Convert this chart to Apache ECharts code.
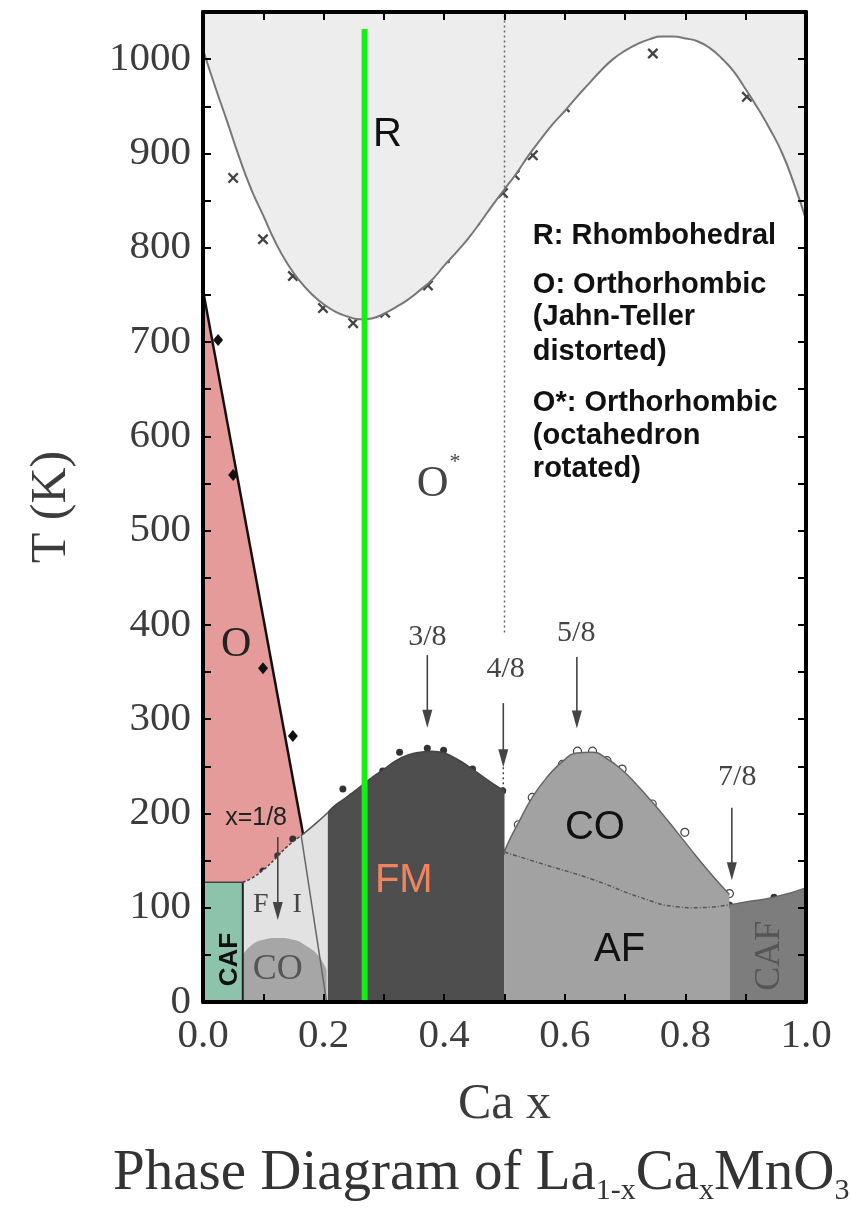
<!DOCTYPE html>
<html><head><meta charset="utf-8">
<script src="https://cdn.jsdelivr.net/npm/echarts@6/dist/echarts.min.js"></script>
<style>html,body{margin:0;padding:0;background:#fff}#c{width:850px;height:1216px}</style>
</head><body><div id="c"></div>
<script>
// ---------------- data (x = Ca fraction, T in K) ----------------
const rBoundary = [[0,1010],[0.02,971],[0.04,934],[0.06,896],[0.08,862],[0.10,834],[0.12,806],[0.14,783],[0.16,765],[0.18,751],[0.20,740],[0.22,732],[0.24,727],[0.26,724],[0.28,725],[0.30,730],[0.32,737],[0.34,745],[0.36,755],[0.38,766],[0.40,781],[0.42,795],[0.44,810],[0.46,827],[0.48,845],[0.50,862],[0.52,879],[0.54,898],[0.56,915],[0.58,931],[0.60,945],[0.62,960],[0.64,974],[0.66,988],[0.68,1000],[0.70,1009],[0.72,1016],[0.74,1021],[0.76,1024],[0.78,1024],[0.80,1022],[0.82,1019],[0.84,1012],[0.86,1001],[0.88,987],[0.90,968],[0.92,948],[0.94,926],[0.96,901],[0.98,868],[1.0,830]];
const rMarks = [[0.020,991],[0.050,874],[0.0995,809],[0.124,819],[0.149,770],[0.199,736],[0.249,720],[0.302,731],[0.373,760],[0.401,789],[0.451,829],[0.4975,858],[0.517,877],[0.547,898],[0.600,949],[0.667,1006],[0.746,1006],[0.799,1036],[0.902,960]];
const oLine = [[0,755],[0.166,178]];
const oDiamonds = [[0.025,702],[0.050,559],[0.0995,354],[0.149,282]];
const fiTop = [[0.066,127],[0.08,131],[0.10,140],[0.12,152],[0.14,165],[0.166,178],[0.19,191],[0.207,201]];
const pinkTop = [0,755];
const pinkCorner = [0,127];
const cafLeftTop = [[0,127],[0.066,127]];
const cafLeftEdge = [[0.066,0],[0.066,127]];
const wedgeLine = [[0.163,176],[0.205,0]];
const coLowTop = [[0.066,50],[0.08,60],[0.10,66],[0.124,68],[0.15,66],[0.17,60],[0.19,50],[0.205,34]];
const coLowCircles = [[0.098,69],[0.124,74],[0.149,70]];
const fmTop = [[0.207,201],[0.22,209],[0.24,218],[0.26,228],[0.28,238],[0.30,247],[0.32,256],[0.34,262],[0.36,265],[0.38,266],[0.40,264],[0.42,258],[0.44,250],[0.46,241],[0.48,232],[0.50,224]];
const fmDots = [[0.048,117],[0.0995,139],[0.124,155],[0.149,173],[0.232,226],[0.247,218],[0.298,245],[0.326,265],[0.372,269],[0.399,267],[0.447,247],[0.472,231],[0.497,224],[0.497,159]];
const coHighTop = [[0.5,160],[0.51,174],[0.523,190],[0.546,217],[0.57,238],[0.596,255],[0.62,264],[0.645,265],[0.67,258],[0.695,246],[0.72,230],[0.745,212],[0.77,193],[0.795,173],[0.82,153],[0.845,134],[0.873,114]];
const coHighCircles = [[0.523,188],[0.546,217],[0.596,252],[0.621,266],[0.646,266],[0.67,256],[0.695,247],[0.745,210],[0.799,180],[0.824,143],[0.873,115]];
const coAfBoundary = [[0.5,159],[0.56,147],[0.646,130],[0.725,111],[0.786,101],[0.82,100],[0.873,103]];
const rightDots = [[0.646,130],[0.82,100],[0.873,103],[0.947,111]];
const cafRightTop = [[0.873,103],[0.90,106],[0.947,111],[1.0,121]];
const halfDivider = [[0.5,392],[0.5,1050]];
const halfDividerLow = [[0.498,249],[0.498,224]];
const greenLine = [[0.268,0],[0.268,1032]];
// arrows: [x, T start, T tip]
const arrows = [[0.124,175,87],[0.372,368,291],[0.498,317,249],[0.62,366,290],[0.877,206,129]];
// labels: [x, T, text, style]
const phaseLabels = [
  [0.306,920,'R','sans'],
  [0.055,379,'O','serifDark'],
  [0.381,549,'O','serifGray'],
  [0.418,573,'*','star'],
  [0.088,195,'x=1/8','small'],
  [0.096,103,'F','serifSmall'],
  [0.156,103,'I','serifSmall'],
  [0.124,34,'CO','coLow'],
  [0.045,45,'CAF','cafLeft'],
  [0.333,128,'FM','fm'],
  [0.65,185,'CO','sans'],
  [0.691,55,'AF','sans'],
  [0.94,49,'CAF','cafRight'],
  [0.372,387,'3/8','frac'],
  [0.502,353,'4/8','frac'],
  [0.619,391,'5/8','frac'],
  [0.886,238,'7/8','frac']
];
const legendLines = [
  [0.547,812,'R: Rhombohedral'],
  [0.547,760,'O: Orthorhombic'],
  [0.547,726,'(Jahn-Teller'],
  [0.547,689,'distorted)'],
  [0.547,635,'O*: Orthorhombic'],
  [0.547,600,'(octahedron'],
  [0.547,565,'rotated)']
];
const xName = 'Ca x';
const yName = 'T (K)';

// ---------------- styles ----------------
const SERIF = "'Liberation Serif', 'DejaVu Serif', serif";
const SANS = "'Liberation Sans', Arial, sans-serif";
const labelStyles = {
  sans: {font: '40px ' + SANS, color: '#111'},
  serifDark: {font: '42px ' + SERIF, color: '#222'},
  serifGray: {font: '44px ' + SERIF, color: '#444'},
  star: {font: '22px ' + SERIF, color: '#444'},
  small: {font: '25px ' + SANS, color: '#222'},
  serifSmall: {font: '28px ' + SERIF, color: '#444'},
  coLow: {font: '36px ' + SERIF, color: '#555'},
  cafLeft: {font: 'bold 26px ' + SANS, color: '#111', rot: Math.PI / 2},
  fm: {font: '40px ' + SANS, color: '#ef845e'},
  cafRight: {font: '36px ' + SERIF, color: '#555', rot: Math.PI / 2},
  frac: {font: '30px ' + SERIF, color: '#444'}
};

function polySeries(points, color) {
  return {
    type: 'custom', coordinateSystem: 'cartesian2d', silent: true,
    data: points,
    renderItem: function (params, api) {
      if (params.dataIndex !== 0) return;
      return {type: 'polygon', shape: {points: points.map(function (p) { return api.coord(p); })}, style: {fill: color}};
    }
  };
}
function areaSeries(points, color, origin, smooth) {
  return {
    type: 'line', data: points, showSymbol: false, symbol: 'none', smooth: smooth, silent: true,
    lineStyle: {width: 0}, areaStyle: {color: color, opacity: 1, origin: origin || 'start'}
  };
}
function lineSeries(points, color, width, type, smooth) {
  return {
    type: 'line', data: points, showSymbol: false, symbol: 'none', smooth: smooth || false, silent: true,
    lineStyle: {color: color, width: width, type: type || 'solid'}
  };
}
function scatterSeries(points, symbol, size, color, border) {
  return {
    type: 'scatter', data: points, symbol: symbol, symbolSize: size, silent: true,
    itemStyle: {color: color, borderColor: border || color, borderWidth: border ? 1.2 : 0, opacity: 1}
  };
}
function textSeries(rows, getStyle, align) {
  return {
    type: 'custom', coordinateSystem: 'cartesian2d', silent: true, z: 10,
    data: rows.map(function (r) { return [r[0], r[1]]; }),
    renderItem: function (params, api) {
      const r = rows[params.dataIndex];
      const st = getStyle(r);
      const p = api.coord([api.value(0), api.value(1)]);
      return {type: 'text', x: p[0], y: p[1], rotation: st.rot || 0,
        style: {text: r[2], font: st.font, fill: st.color, align: align, verticalAlign: 'middle'}};
    }
  };
}
const arrowSeries = {
  type: 'custom', coordinateSystem: 'cartesian2d', silent: true, z: 6,
  data: arrows.map(function (a) { return [a[0], a[1], a[2]]; }),
  renderItem: function (params, api) {
    const p1 = api.coord([api.value(0), api.value(1)]);
    const p2 = api.coord([api.value(0), api.value(2)]);
    return {type: 'group', children: [
      {type: 'line', shape: {x1: p1[0], y1: p1[1], x2: p2[0], y2: p2[1] - 12}, style: {stroke: '#444', lineWidth: 1.6}},
      {type: 'polygon', shape: {points: [[p2[0] - 5, p2[1] - 18], [p2[0] + 5, p2[1] - 18], [p2[0], p2[1]]]}, style: {fill: '#444'}}
    ]};
  }
};

const X_MARK = 'path://M3,0L10,7L17,0L20,3L13,10L20,17L17,20L10,13L3,20L0,17L7,10L0,3Z';

function frameAxisLine() { return {show: true, onZero: false, lineStyle: {color: '#000', width: 4}}; }
function frameTick() { return {show: true, inside: true, length: 8, lineStyle: {color: '#000', width: 2}}; }
function tickLabels(extra) {
  return Object.assign({inside: false, fontFamily: SERIF, fontSize: 41, color: '#3c3c3c'}, extra);
}

const option = {
  animation: false,
  backgroundColor: '#fff',
  grid: {left: 203, right: 44, top: 12, bottom: 214, containLabel: false},
  xAxis: [
    {type: 'value', position: 'bottom', min: 0, max: 1, interval: 0.1, z: 20,
      axisLine: frameAxisLine(), axisTick: frameTick(), splitLine: {show: false},
      axisLabel: tickLabels({margin: 14, formatter: function (v) { return Math.round(v * 10) % 2 === 0 ? v.toFixed(1) : ''; }}),
      name: xName, nameLocation: 'middle', nameGap: 78,
      nameTextStyle: {fontFamily: SERIF, fontSize: 50, color: '#3c3c3c'}},
    {type: 'value', position: 'top', min: 0, max: 1, interval: 0.1, z: 20,
      axisLine: frameAxisLine(), axisTick: frameTick(), splitLine: {show: false}, axisLabel: {show: false}}
  ],
  yAxis: [
    {type: 'value', position: 'left', min: 0, max: 1050, interval: 50, z: 20,
      axisLine: frameAxisLine(), axisTick: frameTick(), splitLine: {show: false},
      axisLabel: tickLabels({margin: 12, showMaxLabel: false, formatter: function (v) { return v % 100 === 0 ? String(v) : ''; }}),
      name: yName, nameLocation: 'middle', nameGap: 126, nameRotate: 90,
      nameTextStyle: {fontFamily: SERIF, fontSize: 50, color: '#3c3c3c'}},
    {type: 'value', position: 'right', min: 0, max: 1050, interval: 50, z: 20,
      axisLine: frameAxisLine(), axisTick: frameTick(), splitLine: {show: false}, axisLabel: {show: false}}
  ],
  graphic: [{
    type: 'text', left: 113, top: 1146, silent: true,
    style: {
      text: '{m|Phase Diagram of La}{s|1-x}{m|Ca}{s|x}{m|MnO}{s|3}',
      rich: {
        m: {fontFamily: SERIF, fontSize: 57, lineHeight: 64, fill: '#333'},
        s: {fontFamily: SERIF, fontSize: 30, lineHeight: 10, verticalAlign: 'bottom', fill: '#333'}
      }
    }
  }],
  series: [
    // region fills
    areaSeries(rBoundary, '#ededed', 'end', true),
    areaSeries(cafLeftTop, '#8dc3ab', 'start', false),
    areaSeries(fiTop, '#e2e2e2', 'start', true),
    areaSeries(coLowTop, '#a6a6a6', 'start', true),
    polySeries([pinkTop].concat(fiTop.slice(0, 6).reverse()).concat([pinkCorner]), '#e49b99'),
    areaSeries(fmTop, '#4e4e4e', 'start', true),
    areaSeries(coHighTop, '#a2a2a2', 'start', true),
    areaSeries(cafRightTop, '#7d7d7d', 'start', true),
    // boundaries
    lineSeries(rBoundary, '#777', 2, 'solid', true),
    lineSeries(halfDivider, '#666', 1.5, [2, 3], false),
    lineSeries(halfDividerLow, '#444', 1.5, [2, 3], false),
    lineSeries(oLine, '#111', 2.5, 'solid', false),
    lineSeries(fiTop.slice(0, 6), '#444', 1.5, [3, 2], true),
    lineSeries(fiTop.slice(5), '#555', 1.5, 'solid', true),
    lineSeries(wedgeLine, '#666', 1.5, 'solid', false),
    lineSeries(cafLeftEdge, '#222', 2, 'solid', false),
    lineSeries(cafLeftTop, '#444', 1.5, 'solid', false),
    lineSeries(fmTop, '#444', 1.5, 'solid', true),
    lineSeries(coHighTop, '#666', 1.5, 'solid', true),
    lineSeries(coAfBoundary, '#555', 1.5, [4, 2, 1, 2], true),
    lineSeries(cafRightTop, '#666', 1.5, 'solid', true),
    // markers
    scatterSeries(rMarks, X_MARK, 11, '#444'),
    scatterSeries(oDiamonds, 'diamond', [10, 12], '#111'),
    scatterSeries(fmDots, 'circle', 7, '#333'),
    scatterSeries(rightDots, 'circle', 7, '#333'),
    scatterSeries(coLowCircles, 'circle', 7, '#fff', '#444'),
    scatterSeries(coHighCircles, 'circle', 8, '#fff', '#444'),
    arrowSeries,
    // green marker line
    lineSeries(greenLine, '#16ee16', 6, 'solid', false),
    // labels
    textSeries(phaseLabels, function (r) { return labelStyles[r[3]]; }, 'center'),
    textSeries(legendLines, function () { return {font: 'bold 29px ' + SANS, color: '#111'}; }, 'left')
  ]
};
const chart = echarts.init(document.getElementById('c'), null, {renderer: 'canvas'});
chart.setOption(option);
</script>
</body></html>
